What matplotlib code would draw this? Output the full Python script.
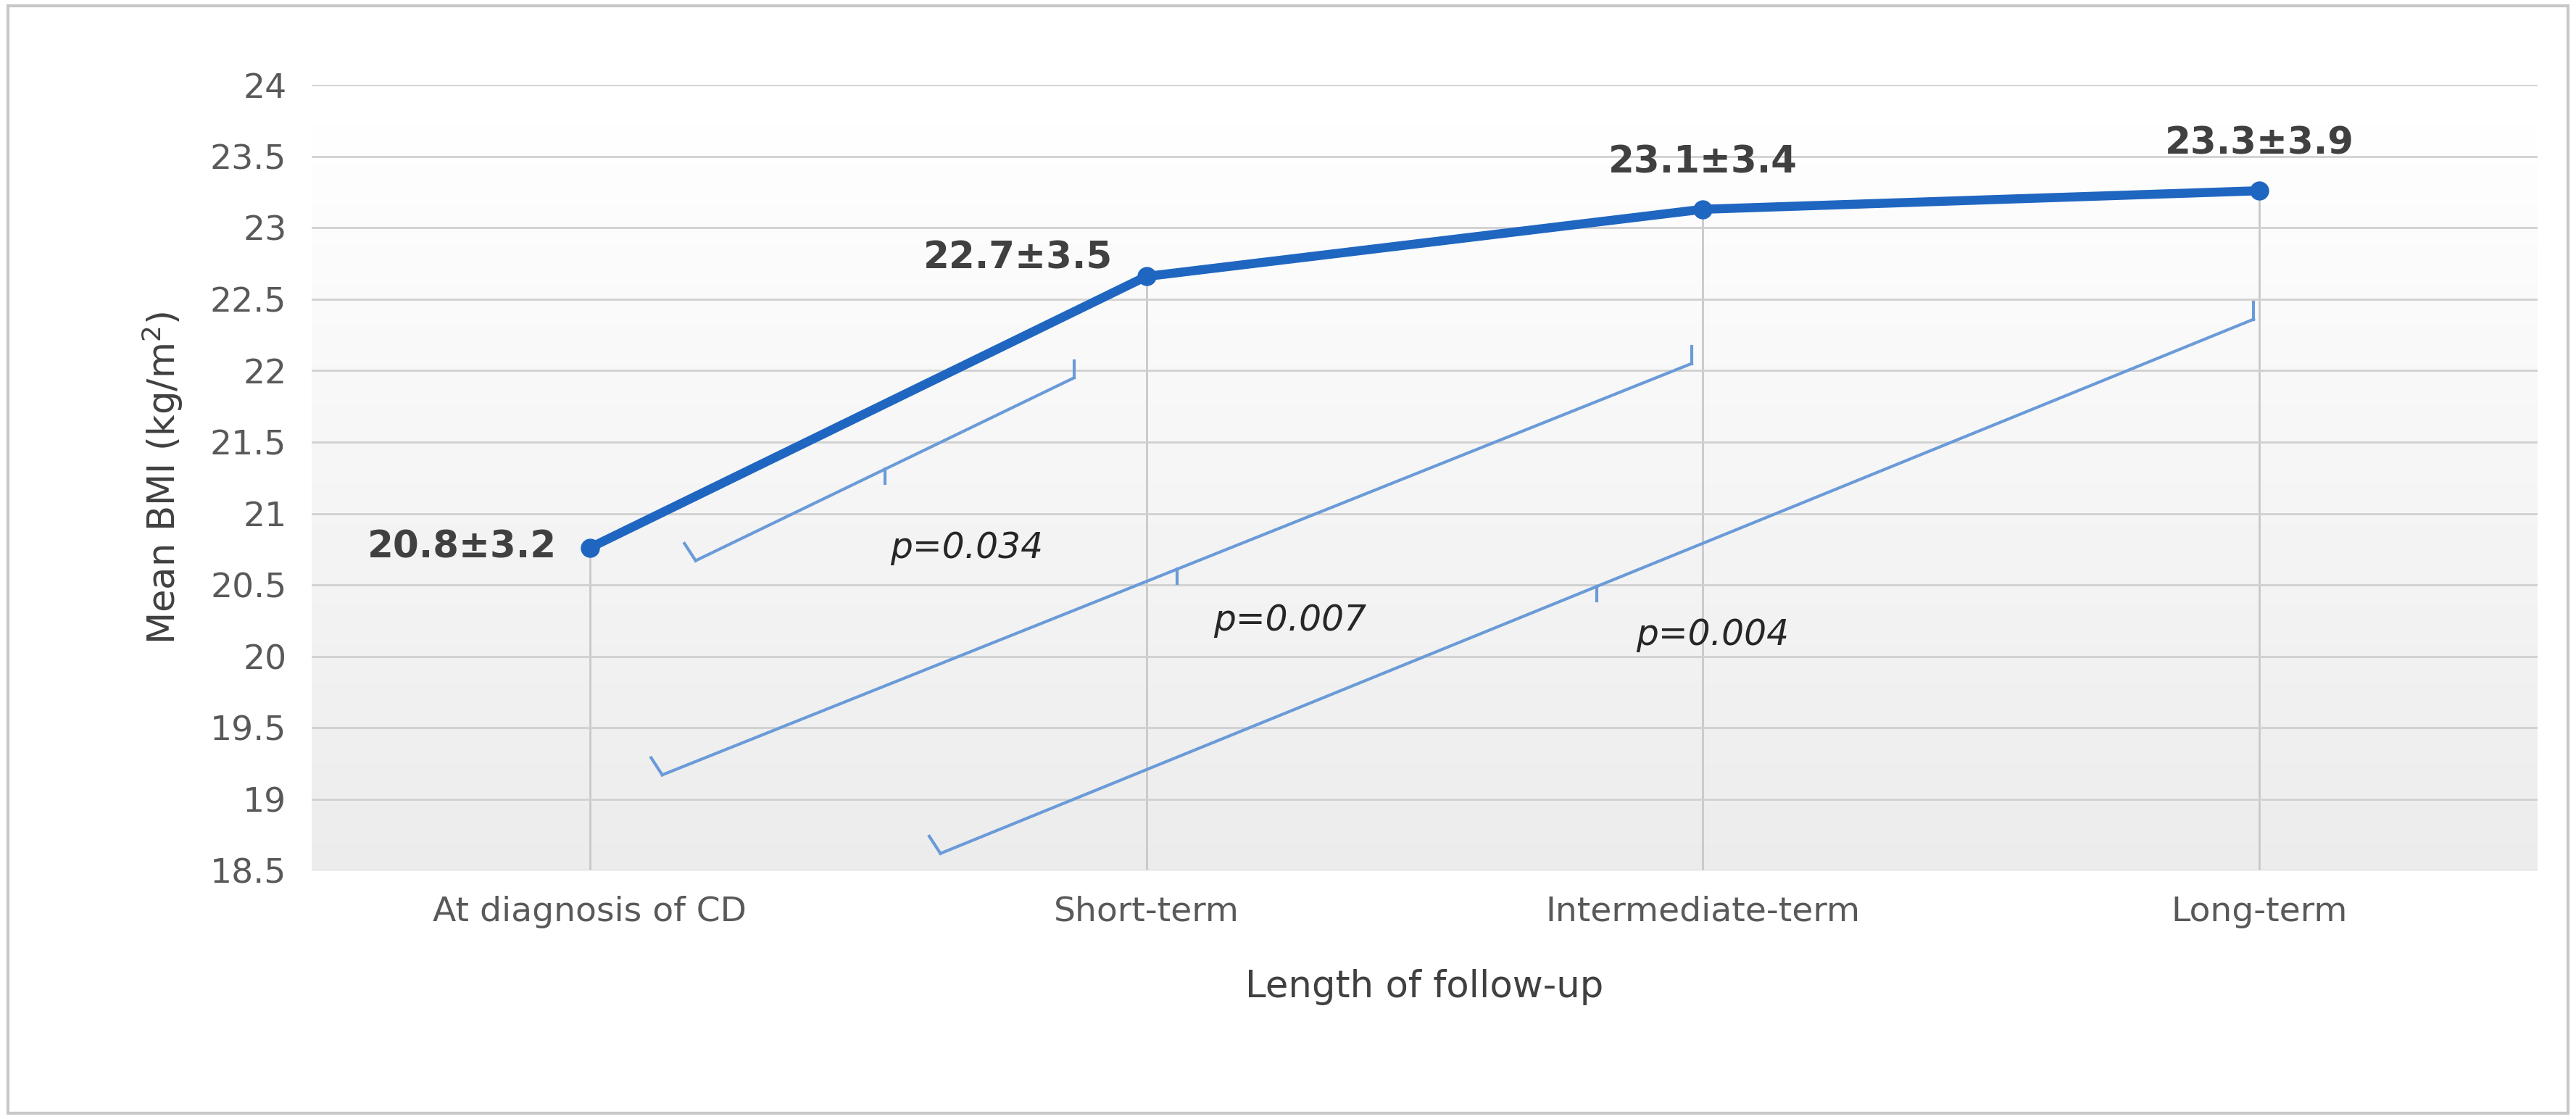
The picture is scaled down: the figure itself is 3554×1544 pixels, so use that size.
import matplotlib
matplotlib.use("Agg")
import matplotlib.pyplot as plt
import numpy as np
from matplotlib.patches import Rectangle

categories = ["At diagnosis of CD", "Short-term", "Intermediate-term", "Long-term"]
bmi = [20.76, 22.66, 23.13, 23.26]
labels = ["20.8±3.2", "22.7±3.5", "23.1±3.4", "23.3±3.9"]
# brackets: (x0, y0, x1, y1, text x, text y, text)
brackets = [
    (0.19, 20.67, 0.87, 21.95, 0.54, 20.76, "p=0.034"),
    (0.13, 19.17, 1.98, 22.05, 1.12, 20.25, "p=0.007"),
    (0.63, 18.62, 2.99, 22.36, 1.88, 20.15, "p=0.004"),
]

fig = plt.figure(figsize=(35.54, 15.44), dpi=100)
fig.patches.append(Rectangle((0.003, 0.005), 0.994, 0.99, transform=fig.transFigure,
                             fill=False, edgecolor="#c8c8c8", linewidth=3))
ax = fig.add_axes([0.121, 0.222, 0.864, 0.702])
ax.set_xlim(-0.5, 3.5)
ax.set_ylim(18.5, 24)
grad = np.linspace(1, 0, 256).reshape(-1, 1)
ax.imshow(grad, extent=(-0.5, 3.5, 18.5, 24), aspect="auto", cmap="gray",
          vmin=-12, vmax=1, origin="upper", zorder=0)
ax.set_yticks(np.arange(18.5, 24.01, 0.5))
ax.set_yticklabels([f"{v:g}" for v in np.arange(18.5, 24.01, 0.5)])
ax.grid(axis="y", color="#d0d0d0", linewidth=2, zorder=1)
x = np.arange(len(categories))
for xi, yi in zip(x, bmi):
    ax.plot([xi, xi], [18.5, yi], color="#c8c8c8", linewidth=2, zorder=1)
ax.plot(x, bmi, color="#1f66c1", linewidth=9, marker="o", markersize=18, zorder=3)
offs = [(-0.06, 0, "right", "center"), (-0.06, 0.0, "right", "bottom"),
        (0, 0.2, "center", "bottom"), (0, 0.2, "center", "bottom")]
for xi, yi, lab, (dx, dy, ha, va) in zip(x, bmi, labels, offs):
    ax.text(xi + dx, yi + dy, lab, ha=ha, va=va, fontsize=37, fontweight="bold", color="#404040")
bc = "#6a9bd8"
for x0, y0, x1, y1, tx, ty, t in brackets:
    ax.plot([x0, x1], [y0, y1], color=bc, linewidth=3, zorder=2)
    ax.plot([x0 - 0.02, x0], [y0 + 0.12, y0], color=bc, linewidth=3)
    ax.plot([x1, x1], [y1, y1 + 0.12], color=bc, linewidth=3)
    mx, my = (x0 + x1) / 2, (y0 + y1) / 2
    ax.plot([mx, mx], [my, my - 0.1], color=bc, linewidth=3)
    ax.text(tx, ty, t, fontsize=35, style="italic", color="#262626", ha="left", va="center")
ax.set_xticks(x)
ax.set_xticklabels(categories)
ax.tick_params(length=0, labelsize=34, labelcolor="#595959", pad=25)
for s in ax.spines.values():
    s.set_visible(False)
ax.set_xlabel("Length of follow-up", fontsize=37, color="#404040", labelpad=40)
ax.set_ylabel("Mean BMI (kg/m$^2$)", fontsize=37, color="#404040", labelpad=25)
fig.savefig("out.png", dpi=100)
